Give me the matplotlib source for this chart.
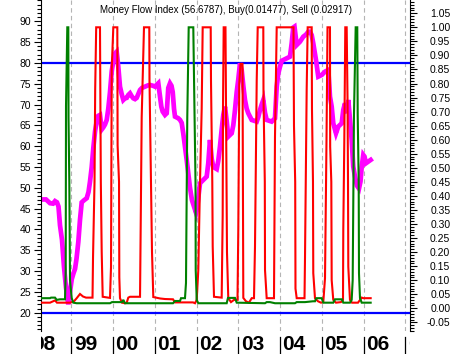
import matplotlib
matplotlib.use("Agg")
import matplotlib.pyplot as plt
from matplotlib.transforms import Bbox, TransformedBbox, blended_transform_factory, offset_copy

# Money Flow Index (left axis), x in decimal years
mfi_x = [1998.286, 1998.394, 1998.490, 1998.562, 1998.610, 1998.657, 1998.693, 1998.729, 1998.777, 1998.825,
         1998.873, 1998.928, 1998.969, 1999.010, 1999.053, 1999.089, 1999.125, 1999.168, 1999.208, 1999.249,
         1999.304, 1999.369, 1999.412, 1999.448, 1999.489, 1999.527, 1999.568, 1999.608, 1999.647, 1999.687,
         1999.728, 1999.766, 1999.807, 1999.848, 1999.886, 1999.927, 1999.968, 2000.006, 2000.047, 2000.087,
         2000.126, 2000.166, 2000.207, 2000.246, 2000.286, 2000.327, 2000.365, 2000.406, 2000.447, 2000.485,
         2000.526, 2000.566, 2000.605, 2000.646, 2000.693, 2000.765, 2000.837, 2000.885, 2000.957, 2001.005,
         2001.053, 2001.084, 2001.125, 2001.156, 2001.189, 2001.244, 2001.285, 2001.323, 2001.364, 2001.400,
         2001.429, 2001.460, 2001.484, 2001.563, 2001.604, 2001.644, 2001.683, 2001.723, 2001.764, 2001.802,
         2001.843, 2001.891, 2001.939, 2001.987, 2002.023, 2002.059, 2002.083, 2002.162, 2002.243, 2002.281,
         2002.322, 2002.363, 2002.401, 2002.483, 2002.521, 2002.562, 2002.602, 2002.641, 2002.681, 2002.722,
         2002.760, 2002.842, 2002.880, 2002.921, 2002.962, 2003.000, 2003.041, 2003.081, 2003.120, 2003.160,
         2003.201, 2003.240, 2003.321, 2003.441, 2003.479, 2003.520, 2003.560, 2003.599, 2003.640, 2003.680,
         2003.800, 2003.879, 2003.920, 2003.958, 2003.999, 2004.040, 2004.078, 2004.159, 2004.238, 2004.279,
         2004.317, 2004.346, 2004.399, 2004.478, 2004.557, 2004.622, 2004.677, 2004.717, 2004.758, 2004.796,
         2004.861, 2004.916, 2004.998, 2005.077, 2005.156, 2005.196, 2005.237, 2005.275, 2005.340, 2005.395,
         2005.477, 2005.515, 2005.556, 2005.596, 2005.635, 2005.675, 2005.716, 2005.754, 2005.795, 2005.843,
         2005.891, 2005.927, 2005.956, 2005.994, 2006.023, 2006.059, 2006.114, 2006.171]
mfi_y = [47.2, 47.2, 46.3, 46.2, 46.8, 46.5, 45.5, 41, 37.5, 31,
         26, 22, 25, 28, 29.5, 30.5, 33, 37, 42.3, 46.5,
         47, 47.5, 49, 51.5, 55, 59.5, 63.5, 66, 67.3, 67.5,
         64, 64.5, 65.2, 66.3, 69, 73, 78, 80.5, 82.3, 82.7,
         79, 74.3, 72.5, 71.1, 71.5, 71.6, 72.3, 72.7, 72, 71.5,
         71.3, 71.6, 72.5, 73.5, 74, 74.3, 74.6, 74.7, 74.5, 74.3,
         74.8, 75.1, 72, 69.5, 68.3, 67.5, 67.9, 74, 75.1, 74.5,
         73, 69, 67.1, 66.7, 66.3, 65.6, 63, 59.9, 56.7, 53.5,
         50, 47, 45.5, 44, 46, 49, 51.1, 51.9, 52.7, 55.9,
         61.5, 57, 55, 54.5, 56.5, 60, 64, 67.5, 69.5, 66,
         62.3, 63.1, 65, 68.7, 73, 76, 79.9, 78.3, 74.5, 71.1,
         69, 67.9, 66.3, 65.9, 67, 68.7, 70, 71.1, 68, 66.3,
         65.9, 66.7, 74.3, 77.5, 79.1, 80.5, 80.7, 81.1, 81.5, 84.7,
         88.5, 88.7, 84.3, 85.1, 86.3, 86.8, 87.5, 87.5, 86.7, 84.7,
         80.7, 76.7, 77.1, 77.9, 78.3, 71.9, 69.5, 65.5, 63.1, 64.7,
         65.5, 68.7, 70.3, 67.9, 71.1, 66.3, 61.5, 55.1, 52.7, 50.5,
         49.8, 51.5, 55, 57.9, 57.5, 55.9, 56.3, 56.7]

# Sell signal (right axis)
sell_x = [1998.286, 1998.490, 1998.562, 1998.610, 1998.657, 1998.801, 1998.969, 1999.065, 1999.129, 1999.208,
          1999.280, 1999.352, 1999.496, 1999.508, 1999.520, 1999.556, 1999.572, 1999.596, 1999.687, 1999.707,
          1999.728, 1999.752, 1999.927, 1999.951, 1999.968, 2000.006, 2000.102, 2000.109, 2000.143, 2000.150,
          2000.166, 2000.214, 2000.286, 2000.327, 2000.365, 2000.406, 2000.646, 2000.650, 2000.686, 2000.741,
          2000.868, 2000.873, 2000.909, 2000.933, 2000.964, 2001.125, 2001.244, 2001.436, 2001.484, 2001.915,
          2001.963, 2002.004, 2002.042, 2002.083, 2002.123, 2002.147, 2002.339, 2002.346, 2002.377, 2002.387,
          2002.418, 2002.602, 2002.626, 2002.634, 2002.650, 2002.693, 2002.717, 2002.729, 2002.760, 2002.825,
          2002.897, 2002.981, 2003.000, 2003.024, 2003.053, 2003.101, 2003.113, 2003.120, 2003.184, 2003.256,
          2003.321, 2003.376, 2003.400, 2003.441, 2003.465, 2003.599, 2003.604, 2003.635, 2003.640, 2003.680,
          2003.855, 2003.879, 2003.920, 2004.322, 2004.334, 2004.363, 2004.370, 2004.399, 2004.586, 2004.598,
          2004.638, 2004.662, 2004.758, 2004.765, 2004.789, 2004.796, 2004.837, 2004.909, 2004.981, 2005.036,
          2005.077, 2005.113, 2005.137, 2005.196, 2005.201, 2005.228, 2005.237, 2005.275, 2005.340, 2005.460,
          2005.508, 2005.515, 2005.539, 2005.563, 2005.596, 2005.616, 2005.628, 2005.635, 2005.675, 2005.723,
          2005.867, 2005.915, 2005.956, 2005.994, 2006.171]
sell_y = [0.02, 0.02, 0.025, 0.028, 0.02, 0.02, 0.02, 0.025, 0.036, 0.051,
          0.042, 0.038, 0.038, 0.038, 0.18, 0.45, 0.78, 1.0, 1.0, 0.45,
          0.2, 0.041, 0.037, 0.148, 0.85, 1.0, 1.0, 0.58, 0.45, 0.11,
          0.036, 0.02, 0.018, 0.02, 0.038, 0.041, 0.041, 0.1, 0.68, 1.0,
          1.0, 0.81, 0.45, 0.2, 0.04, 0.035, 0.033, 0.032, 0.021, 0.021,
          0.018, 0.03, 0.136, 0.45, 0.71, 1.0, 1.0, 0.81, 0.45, 0.22,
          0.041, 0.038, 0.33, 0.72, 1.0, 1.0, 0.49, 0.2, 0.036, 0.022,
          0.03, 0.03, 0.28, 0.8, 0.87, 0.87, 0.3, 0.037, 0.025, 0.02,
          0.036, 0.036, 0.22, 0.81, 1.0, 1.0, 0.75, 0.45, 0.136, 0.036,
          0.036, 0.61, 1.0, 1.0, 0.65, 0.45, 0.07, 0.036, 0.036, 0.18,
          0.78, 1.0, 1.0, 0.71, 0.45, 0.125, 0.036, 0.025, 0.02, 0.022,
          0.107, 0.6, 1.0, 1.0, 0.575, 0.45, 0.1, 0.03, 0.02, 0.022,
          0.03, 0.28, 0.59, 1.0, 1.0, 0.75, 0.45, 0.148, 0.03, 0.02,
          0.02, 0.03, 0.038, 0.036, 0.036]

# Buy signal (right axis)
buy_x = [1998.286, 1998.490, 1998.514, 1998.610, 1998.650, 1998.729, 1998.849, 1998.866, 1998.873, 1998.904,
         1998.928, 1998.933, 1998.952, 1998.969, 1999.010, 1999.048, 1999.129, 1999.927, 1999.975, 2000.047,
         2000.214, 2000.246, 2000.286, 2001.436, 2001.484, 2001.604, 2001.628, 2001.723, 2001.747, 2001.778,
         2001.812, 2001.922, 2001.946, 2001.975, 2001.980, 2002.004, 2002.042, 2002.722, 2002.753, 2002.921,
         2002.962, 2003.640, 2003.680, 2003.759, 2003.879, 2004.358, 2004.399, 2004.598, 2004.789, 2004.837,
         2004.868, 2004.998, 2005.036, 2005.275, 2005.316, 2005.484, 2005.515, 2005.675, 2005.716, 2005.740,
         2005.771, 2005.812, 2005.850, 2005.860, 2005.884, 2005.891, 2005.915, 2005.956, 2006.171]
buy_y = [0.036, 0.036, 0.038, 0.038, 0.03, 0.032, 0.032, 0.136, 0.72, 1.0,
         1.0, 0.68, 0.45, 0.1, 0.036, 0.02, 0.018, 0.018, 0.022, 0.022,
         0.022, 0.03, 0.018, 0.018, 0.026, 0.026, 0.036, 0.036, 0.09, 0.68,
         1.0, 1.0, 0.75, 0.45, 0.136, 0.03, 0.018, 0.018, 0.037, 0.037,
         0.02, 0.018, 0.022, 0.022, 0.018, 0.018, 0.022, 0.022, 0.025, 0.025,
         0.036, 0.036, 0.02, 0.02, 0.032, 0.032, 0.02, 0.02, 0.03, 0.1,
         0.69, 1.0, 1.0, 0.69, 0.45, 0.125, 0.036, 0.02, 0.02]

years = [1998, 1999, 2000, 2001, 2002, 2003, 2004, 2005, 2006, 2007]
overbought, oversold = 80, 20
title = "Money Flow Index (56.6787), Buy(0.01477), Sell (0.02917)"

plt.rcParams["font.family"] = ["Liberation Sans", "DejaVu Sans"]

fig = plt.figure(figsize=(4.51, 3.54), dpi=100)
ax = fig.add_axes([41 / 451, 23 / 354, 369 / 451, 331 / 354])
ax2 = ax.twinx()

ax.set_xlim(1998.274, 2007.113)
ax.set_ylim(15.6, 95.11)
ax2.set_ylim(-0.0808, 1.0972)

# year grid lines
for yr in years:
    ax.axvline(yr, color="#b4b4b4", lw=0.8, dashes=(4, 3), zorder=0)

ax.axhline(overbought, color="#0000ff", lw=1.6, zorder=1)
ax.axhline(oversold, color="#0000ff", lw=1.6, zorder=1)

ax.plot(mfi_x, mfi_y, color="#ff00ff", lw=3.4, zorder=2, solid_joinstyle="miter")
ax2.plot(sell_x, sell_y, color="#ff0000", lw=1.5, zorder=3, solid_joinstyle="miter")
ax2.plot(buy_x, buy_y, color="#008000", lw=1.5, zorder=4, solid_joinstyle="miter")
ax.set_zorder(ax2.get_zorder() - 1)
ax.patch.set_visible(True)
ax2.patch.set_visible(False)

ax.text(0.5, 0.985, title, transform=ax.transAxes, ha="center", va="top", fontsize=7)

# left axis
for a in (ax, ax2):
    for s in ("top", "bottom"):
        a.spines[s].set_visible(False)
ax2.spines["left"].set_visible(False)
ax.spines["right"].set_visible(False)
ax.set_xticks([])
ax.set_yticks(range(20, 95, 5))
ax.set_yticks(range(16, 96), minor=True)
ax.tick_params(axis="y", which="major", length=5, width=0.8, pad=2, labelsize=7.5)
ax.tick_params(axis="y", which="minor", length=3, width=0.8)

# right axis
ax2.set_yticks([i / 100 for i in range(-5, 106, 5)])
ax2.set_yticks([i / 100 for i in range(-8, 110)], minor=True)
ax2.set_yticklabels([f"{i / 100:.2f}" for i in range(-5, 106, 5)])
ax2.tick_params(axis="y", which="major", length=5, width=0.8, pad=24, labelsize=7.5)
ax2.tick_params(axis="y", which="minor", length=3, width=0.8)
for lab in ax2.get_yticklabels():
    lab.set_horizontalalignment("right")

# year labels under the plot, clipped to the plot width
trans = blended_transform_factory(ax.transData, fig.transFigure)
clip = TransformedBbox(Bbox.from_extents(0, 0, 1, 1), blended_transform_factory(ax.transAxes, fig.transFigure))
for yr in years:
    ln, = ax.plot([yr, yr], [0.0, 17 / 354], transform=trans, color="black", lw=0.9, clip_on=True)
    ln.set_clip_box(clip)
    t = ax.text(yr, 9 / 354, f"{yr % 100:02d}", transform=offset_copy(trans, fig=fig, x=2.5, y=0, units="dots"),
                ha="left", va="center", fontsize=15, fontweight="bold")
    t.set_clip_box(clip)
    t.set_clip_on(True)

fig.savefig("out.png", dpi=100)
